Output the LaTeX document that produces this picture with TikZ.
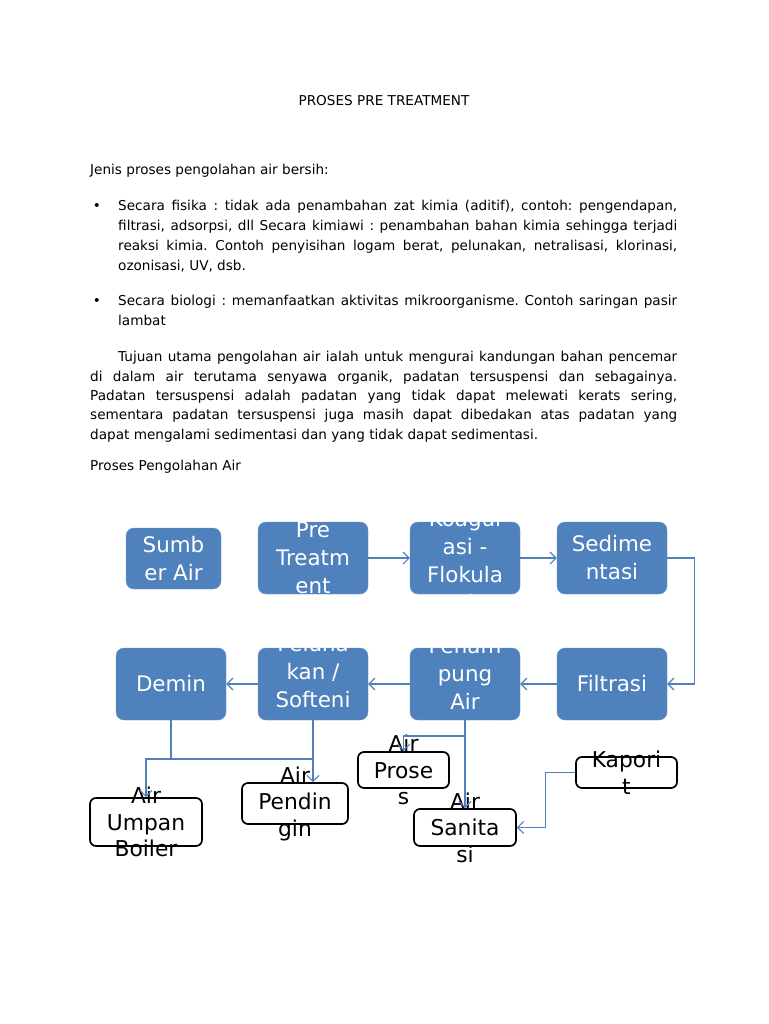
\documentclass[tikz,border=0pt]{standalone}
\usepackage{fontspec}
\setmainfont{DejaVu Sans}
\usepackage{xcolor}
\usepackage{tikz}
\usetikzlibrary{arrows.meta, positioning}
\definecolor{procblue}{HTML}{4F81BD}
\newcommand{\bodysize}{\fontsize{13.6}{19.7}\selectfont}
\newcommand{\jline}[2]{\makebox[#1][s]{#2}}
\frenchspacing

\begin{document}
\begin{tikzpicture}[
  x=1pt, y=-1pt,
  body/.style={anchor=base west, inner sep=0pt, font=\bodysize},
  proc/.style={fill=procblue, draw=procblue!85!white, rounded corners=8pt,
    minimum width=110pt, minimum height=72pt, inner sep=0pt},
  proctext/.style={text=white, align=center, inner sep=0pt,
    font=\fontsize{21.4}{28}\selectfont},
  outbox/.style={draw=black, line width=1.7pt, fill=white, rounded corners=6pt,
    inner sep=0pt},
  outtext/.style={align=center, inner sep=0pt,
    font=\fontsize{21.8}{26.5}\selectfont},
  link/.style={draw=procblue, line width=1.1pt},
  arrow/.style={link, -{Straight Barb[length=6pt, width=12pt]}},
]
  \fill[white] (0,0) rectangle (768,1024);
  \useasboundingbox (0,0) rectangle (768,1024);

  % Page text
  \node[body, anchor=base] (title) at (384,106) {PROSES PRE TREATMENT};
  \node[body] (intro) at (90,175) {Jenis proses pengolahan air bersih:};
  \node[body, anchor=base] (dotA) at (97,211) {•};
  \node[body] (fisA) at (118,211) {\jline{559pt}{Secara fisika : tidak ada penambahan zat kimia (aditif), contoh: pengendapan,}};
  \node[body] (fisB) at (118,231) {\jline{559pt}{filtrasi, adsorpsi, dll Secara kimiawi : penambahan bahan kimia sehingga terjadi}};
  \node[body] (fisC) at (118,250) {\jline{559pt}{reaksi kimia. Contoh penyisihan logam berat, pelunakan, netralisasi, klorinasi,}};
  \node[body] (fisD) at (118,270) {ozonisasi, UV, dsb.};
  \node[body, anchor=base] (dotB) at (97,305) {•};
  \node[body] (bioA) at (118,305) {\jline{559pt}{Secara biologi : memanfaatkan aktivitas mikroorganisme. Contoh saringan pasir}};
  \node[body] (bioB) at (118,325) {lambat};
  \node[body] (parA) at (118,361) {\jline{559pt}{Tujuan utama pengolahan air ialah untuk mengurai kandungan bahan pencemar}};
  \node[body] (parB) at (90,381) {\jline{587pt}{di dalam air terutama senyawa organik, padatan tersuspensi dan sebagainya.}};
  \node[body] (parC) at (90,400) {\jline{587pt}{Padatan tersuspensi adalah padatan yang tidak dapat melewati kerats sering,}};
  \node[body] (parD) at (90,419) {\jline{587pt}{sementara padatan tersuspensi juga masih dapat dibedakan atas padatan yang}};
  \node[body] (parE) at (90,439) {dapat mengalami sedimentasi dan yang tidak dapat sedimentasi.};
  \node[body] (subhead) at (90,470) {Proses Pengolahan Air};

  % Process boxes — two rows
  \node[proc, minimum width=95pt, minimum height=61pt] (sumber) at (173.5,558.5) {};
  \node[proc] (pre)   at (313,558) {};
  \node[proc] (koag)  at (465,558) {};
  \node[proc] (sedim) at (612,558) {};
  \node[proc] (demin) at (171,684) {};
  \node[proc] (pelun) at (313,684) {};
  \node[proc] (penam) at (465,684) {};
  \node[proc] (filt)  at (612,684) {};
  \node[proctext] (sumber-t) at (sumber) {Sumb\\er Air};
  \node[proctext] (pre-t)    at (pre)    {Pre\\Treatm\\ent};
  \node[proctext, yshift=-3pt] (koag-t)  at (koag)  {Koagul\\asi -\\Flokula\\si};
  \node[proctext] (sedim-t)  at (sedim)  {Sedime\\ntasi};
  \node[proctext] (demin-t)  at (demin)  {Demin};
  \node[proctext, yshift=-4pt] (pelun-t) at (pelun) {Peluna\\kan /\\Softeni\\ng};
  \node[proctext, yshift=-4pt] (penam-t) at (penam) {Penam\\pung\\Air\\Bersih};
  \node[proctext] (filt-t)   at (filt)   {Filtrasi};

  % Product boxes
  \node[outbox, minimum width=112pt, minimum height=48pt] (boiler) at (146,822) {};
  \node[outbox, minimum width=106pt, minimum height=41pt] (pend)   at (295,803.5) {};
  \node[outbox, minimum width=91pt,  minimum height=36pt] (proses) at (403.5,770) {};
  \node[outbox, minimum width=102pt, minimum height=37pt] (sanit)  at (465,827.5) {};
  \node[outbox, minimum width=101pt, minimum height=31pt] (kapor)  at (626.5,772.5) {};
  \node[outtext] (boiler-t) at (boiler) {Air\\Umpan\\Boiler};
  \node[outtext] (pend-t)   at (pend)   {Air\\Pendin\\gin};
  \node[outtext] (proses-t) at (proses) {Air\\Prose\\s};
  \node[outtext] (sanit-t)  at (sanit)  {Air\\Sanita\\si};
  \node[outtext] (kapor-t)  at (kapor)  {Kapori\\t};

  \coordinate (splitA) at (313,759);
  \coordinate (splitB) at (465,736);

  % Main flow
  \draw[arrow] (pre) -- (koag);
  \draw[arrow] (koag) -- (sedim);
  \draw[arrow] (sedim.east) -- ++(27,0) |- (filt.east);
  \draw[arrow] (filt) -- (penam);
  \draw[arrow] (penam) -- (pelun);
  \draw[arrow] (pelun) -- (demin);

  % Branches to products
  \draw[arrow] (demin.south) |- (splitA) -- (pelun.south |- pend.north);
  \draw[arrow] (pelun.south) -- (splitA) -| (boiler.north);
  \draw[arrow] (penam.south) -- (splitB) -| (proses.north);
  \draw[arrow] (penam.south) -- (sanit.north);
  \draw[arrow] (kapor.west) -- ++(-30,0) |- (sanit.east);
\end{tikzpicture}
\end{document}
